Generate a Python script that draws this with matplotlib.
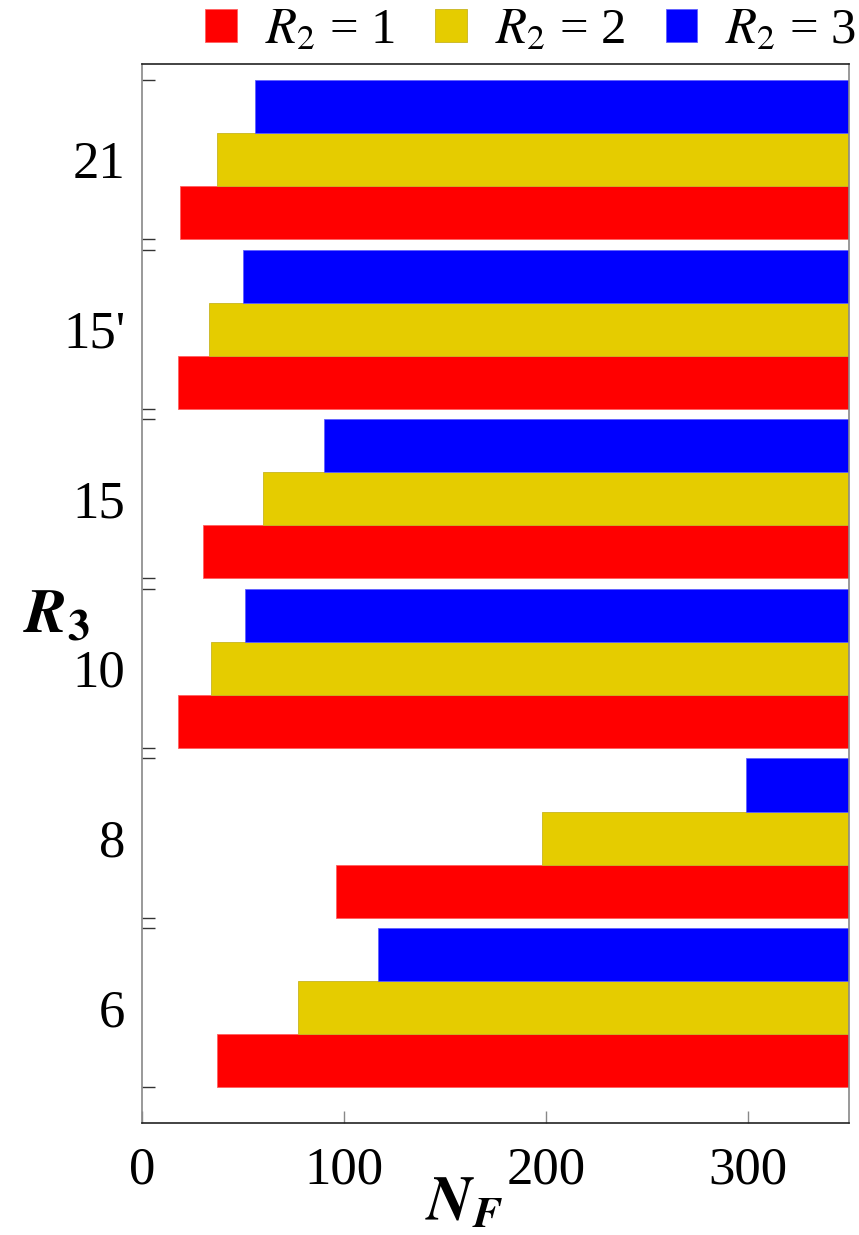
import matplotlib.pyplot as plt
from matplotlib.patches import Patch
import numpy as np

plt.rcParams["font.family"] = "Liberation Serif"
plt.rcParams["mathtext.fontset"] = "stix"

# data: left end of each bar (bars run out to the right edge)
groups = ["6", "8", "10", "15", "15'", "21"]
r2_1 = [37, 96, 18, 30, 18, 19]
r2_2 = [77, 198, 34, 60, 33, 37]
r2_3 = [117, 299, 51, 90, 50, 56]
series_labels = ["$R_2$ = 1", "$R_2$ = 2", "$R_2$ = 3"]
colours = ["#ff0000", "#e5cc00", "#0000ff"]
edges = ["#ff6060", "#c8b420", "#6060ff"]

xmax = 350
gap = 0.2
period = 3 + gap

fig = plt.figure(figsize=(8.59, 12.35), dpi=100)
ax = fig.add_axes([142 / 859, 1 - 1122.7 / 1235, (849 - 142) / 859, (1122.7 - 64) / 1235])

base = np.arange(len(groups)) * period
for k, vals in enumerate([r2_1, r2_2, r2_3]):
    v = np.array(vals)
    ax.barh(base + 0.5 + k, xmax - v, left=v, height=1.0,
            color=colours[k], edgecolor=edges[k], linewidth=0.6)

ax.set_xlim(0, xmax)
ax.set_ylim(-0.67, base[-1] + 3 + 0.3)

# x ticks
ax.set_xticks([0, 100, 200, 300])
ax.tick_params(axis="x", direction="in", length=8.6, width=1, color="#888888",
               labelsize=38, pad=17)

# y labels at group centres, tick marks at group edges
ax.set_yticks(base + 1.5)
ax.set_yticklabels(groups)
ax.set_yticks(np.concatenate([base, base + 3]), minor=True)
ax.tick_params(axis="y", which="major", length=0, labelsize=38, pad=12)
ax.tick_params(axis="y", which="minor", direction="in", length=9.4, width=1,
               color="#333333")

for side in ["top", "bottom"]:
    ax.spines[side].set_color("#222222")
    ax.spines[side].set_linewidth(1.2)
for side in ["left", "right"]:
    ax.spines[side].set_color("#888888")
    ax.spines[side].set_linewidth(1.2)

# axis labels
fig.text(425 / 859, 1 - 1220 / 1235, r"$\mathbfit{N}_{\mathbfit{F}}$",
         fontsize=45, ha="left", va="baseline")
fig.text(23 / 859, 1 - 632 / 1235, r"$\mathbfit{R}_{\mathbf{3}}$",
         fontsize=45, ha="left", va="baseline")

# legend across the top
handles = [Patch(facecolor=c, edgecolor=e, linewidth=0.6) for c, e in zip(colours, edges)]
fig.legend(handles, series_labels, loc="center right", ncol=3, frameon=False,
           bbox_to_anchor=(856 / 859, 1 - 31 / 1235), fontsize=36.5,
           handlelength=0.62, handleheight=0.62, handletextpad=0.55,
           columnspacing=0.8, borderpad=0, borderaxespad=0)

plt.savefig("out.png", dpi=100)
